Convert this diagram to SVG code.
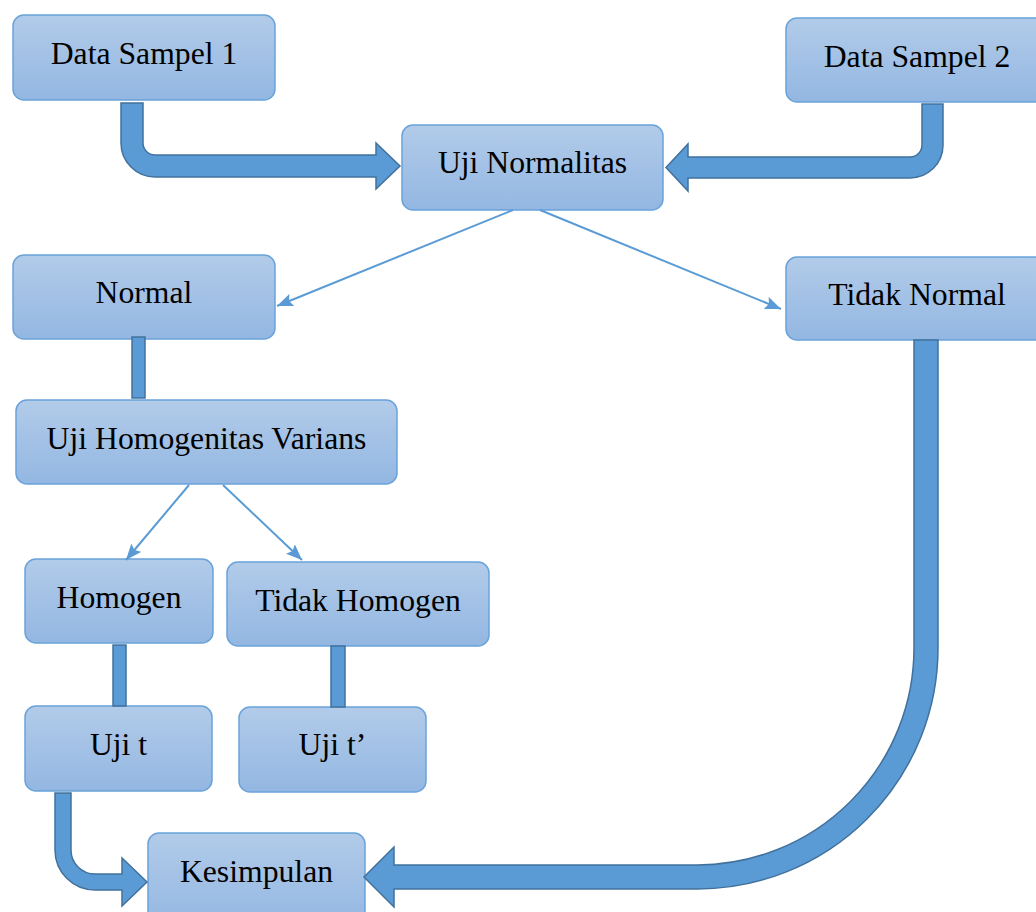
<svg xmlns="http://www.w3.org/2000/svg" width="1036" height="912" viewBox="0 0 1036 912">
<defs>
<linearGradient id="g" x1="0" y1="0" x2="0" y2="1">
<stop offset="0" stop-color="#b2cbe9"/>
<stop offset="1" stop-color="#93b7e2"/>
</linearGradient>
<marker id="ah" markerUnits="userSpaceOnUse" markerWidth="17" markerHeight="13" refX="16" refY="6.5" orient="auto">
<path d="M0,0 L16,6.5 L0,13 L3,6.5 Z" fill="#5b9bd5"/>
</marker>
<style>
.box{fill:url(#g);stroke:#6aa3da;stroke-width:1.5}
.lbl{font-family:"Liberation Serif","Times New Roman",serif;font-size:31.7px;fill:#000;text-anchor:middle}
.blk{fill:#5b9bd5;stroke:#41719c;stroke-width:1.5;stroke-linejoin:miter}
.thin{stroke:#5b9bd5;stroke-width:2;fill:none;marker-end:url(#ah)}
</style>
</defs>
<rect width="1036" height="912" fill="#fff"/>
<g id="nodes">
<g id="n-data1"><rect class="box" x="13" y="15" width="262" height="85" rx="11"/><text class="lbl" x="144" y="64">Data Sampel 1</text></g>
<g id="n-data2"><rect class="box" x="786" y="18" width="262" height="84" rx="11"/><text class="lbl" x="917" y="67">Data Sampel 2</text></g>
<g id="n-normalitas"><rect class="box" x="402" y="125" width="261" height="85" rx="11"/><text class="lbl" x="532.5" y="173">Uji Normalitas</text></g>
<g id="n-normal"><rect class="box" x="13" y="255" width="262" height="84" rx="11"/><text class="lbl" x="144" y="303">Normal</text></g>
<g id="n-tidaknormal"><rect class="box" x="786" y="257" width="262" height="83" rx="11"/><text class="lbl" x="917" y="305">Tidak Normal</text></g>
<g id="n-uhv"><rect class="box" x="16" y="400" width="381" height="84" rx="11"/><text class="lbl" x="206.5" y="449">Uji Homogenitas Varians</text></g>
<g id="n-homogen"><rect class="box" x="25" y="559" width="188" height="84" rx="11"/><text class="lbl" x="119" y="608">Homogen</text></g>
<g id="n-tidakhomogen"><rect class="box" x="227" y="562" width="262" height="84" rx="11"/><text class="lbl" x="358" y="611">Tidak Homogen</text></g>
<g id="n-ujit"><rect class="box" x="25" y="706" width="187" height="85" rx="11"/><text class="lbl" x="118.5" y="755">Uji t</text></g>
<g id="n-ujit2"><rect class="box" x="239" y="707" width="187" height="85" rx="11"/><text class="lbl" x="332.5" y="755">Uji t’</text></g>
<g id="n-kesimpulan"><rect class="box" x="148" y="833" width="217" height="95" rx="11"/><text class="lbl" x="256.5" y="882">Kesimpulan</text></g>
</g>
<g id="connectors">
<path class="blk" d="M121,103 H143 V143 A12,12 0 0 0 155,155 H376 V143 L400,166 L376,189 V177 H155 A34,34 0 0 1 121,143 Z"/>
<path class="blk" d="M943,104 V145 A33,33 0 0 1 910,178 H688 V191 L666,167.5 L688,144 V157 H910 A12,12 0 0 0 922,145 V104 Z"/>
<line class="thin" x1="513" y1="210" x2="277" y2="306"/>
<line class="thin" x1="540" y1="210" x2="781" y2="309"/>
<rect class="blk" x="132" y="337" width="13" height="61"/>
<line class="thin" x1="189" y1="485" x2="126" y2="560"/>
<line class="thin" x1="223" y1="485" x2="302" y2="560"/>
<rect class="blk" x="113" y="645" width="13" height="61"/>
<rect class="blk" x="331" y="646" width="14" height="61"/>
<path class="blk" d="M55,793 H71 V850 A24,24 0 0 0 95,874 H122 V858 L147,882 L122,906 V890 H95 A40,40 0 0 1 55,850 Z"/>
<path class="blk" d="M914,340 H938 V648 A241,241 0 0 1 697,889 H394 V907 L364,877 L394,847 V865 H697 A217,217 0 0 0 914,648 Z"/>
</g>
</svg>
